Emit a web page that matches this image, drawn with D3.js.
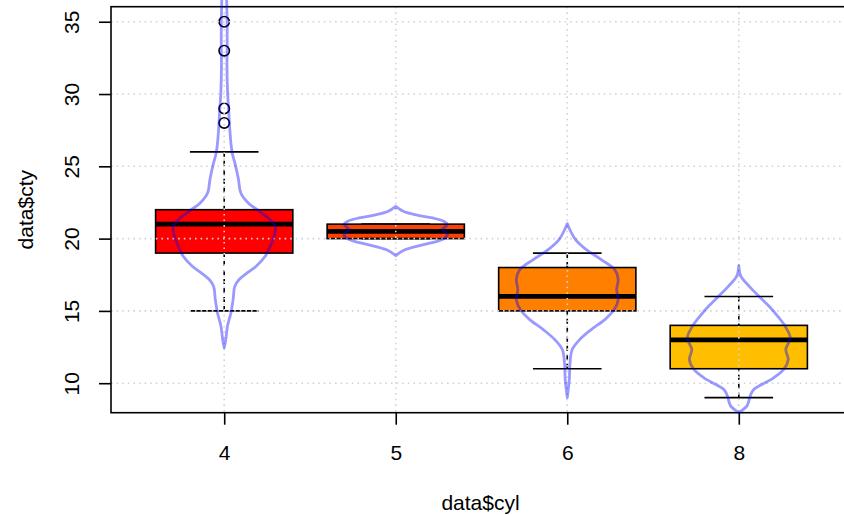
<!DOCTYPE html>
<html>
<head>
<meta charset="utf-8">
<script src="https://cdn.jsdelivr.net/npm/d3@7"></script>
<style>
  html, body { margin: 0; padding: 0; background: #fff; }
  svg { display: block; }
  text { font-family: "Liberation Sans", Arial, Helvetica, sans-serif; fill: #000; }
</style>
</head>
<body>
<svg id="chart" width="844" height="515"></svg>
<script>
// City mileage by number of cylinders: boxplots with violin outlines on top.
const categories = ["4", "5", "6", "8"];
const q1 = [19, 20, 15, 11];
const medians = [21, 20.5, 16, 13];
const q3 = [22, 21, 18, 14];
const whiskerLow = [15, 20, 11, 9];
const whiskerHigh = [26, 21, 19, 16];
const outliers = [[28, 29, 33, 35], [], [], []];
const boxColors = ["#FF0000", "#FF4000", "#FF8000", "#FFBF00"];
const yTicks = [10, 15, 20, 25, 30, 35];
const yLimits = [7.96, 36.04];
const xLimits = [0.34, 4.66];

// Violin outlines: [cty value, half width in category units]
const violin4 = [[36.6, 0.014], [36.05, 0.015], [35, 0.017], [33, 0.017], [32, 0.016], [30, 0.020],
  [28.9, 0.026], [27.5, 0.033], [26.5, 0.040], [25.9, 0.047], [25.0, 0.067], [24.1, 0.083],
  [23.16, 0.097], [22.47, 0.140], [22.0, 0.192], [21.43, 0.256], [20.85, 0.297], [20.16, 0.291],
  [19.47, 0.268], [18.78, 0.239], [18.09, 0.186], [17.63, 0.134], [17.17, 0.087], [16.7, 0.062],
  [15.8, 0.052], [14.86, 0.039], [13.94, 0.019], [13.0, 0.009], [12.45, 0]];
const violin5 = [[22.23, 0], [21.89, 0.044], [21.66, 0.111], [21.43, 0.214], [21.2, 0.280],
  [20.97, 0.301], [20.62, 0.272], [20.28, 0.301], [19.98, 0.280], [19.7, 0.204], [19.47, 0.122],
  [19.2, 0.047], [18.83, 0]];
const violin6 = [[21.04, 0], [20.62, 0.015], [19.93, 0.048], [19.24, 0.111], [18.55, 0.198],
  [17.86, 0.277], [17.17, 0.297], [16.48, 0.288], [15.78, 0.297], [15.09, 0.274], [14.4, 0.219],
  [13.71, 0.140], [13.02, 0.073], [12.33, 0.029], [11.4, 0.016], [10.26, 0.012], [9.0, 0]];
const violin8 = [[18.13, 0], [17.4, 0.012], [16.7, 0.061], [16.0, 0.119], [15.3, 0.178],
  [14.63, 0.227], [13.94, 0.270], [13.14, 0.300], [12.33, 0.274], [11.64, 0.288], [10.95, 0.262],
  [10.26, 0.189], [9.57, 0.087], [9.1, 0.066], [8.43, 0.048], [7.97, 0]];
const violins = [violin4, violin5, violin6, violin8];

const plot = { left: 111, right: 852, top: 6.7, bottom: 412.7 };
const lw = 1.6;
const fontSize = 21;

const svg = d3.select("#chart");

const x = d3.scaleLinear().domain(xLimits).range([plot.left, plot.right]);
const y = d3.scaleLinear().domain(yLimits).range([plot.bottom, plot.top]);
const width = d3.scaleLinear().domain([0, 1]).range([0, x(2) - x(1)]);
const pos = i => x(i + 1);
const boxHalf = width(0.4);
const stapleHalf = width(0.2);

const data = categories.map((c, i) => ({
  c, i, q1: q1[i], med: medians[i], q3: q3[i],
  lo: whiskerLow[i], hi: whiskerHigh[i], out: outliers[i], fill: boxColors[i]
}));

// Boxes
const g = svg.append("g");
g.selectAll("rect.box").data(data).join("rect")
  .attr("x", d => pos(d.i) - boxHalf)
  .attr("y", d => y(d.q3))
  .attr("width", boxHalf * 2)
  .attr("height", d => y(d.q1) - y(d.q3))
  .attr("fill", d => d.fill)
  .attr("stroke", "#000").attr("stroke-width", lw);

// Whiskers (dashed) and staples
[["lo", "q1"], ["hi", "q3"]].forEach(([a, b]) => {
  g.selectAll(null).data(data.filter(d => d[a] !== d[b])).join("line")
    .attr("x1", d => pos(d.i)).attr("x2", d => pos(d.i))
    .attr("y1", d => y(d[a])).attr("y2", d => y(d[b]))
    .attr("stroke", "#000").attr("stroke-width", lw)
    .attr("stroke-dasharray", "5,4");
  g.selectAll(null).data(data).join("line")
    .attr("x1", d => pos(d.i) - stapleHalf).attr("x2", d => pos(d.i) + stapleHalf)
    .attr("y1", d => y(d[a])).attr("y2", d => y(d[a]))
    .attr("stroke", "#000").attr("stroke-width", lw);
});

// Medians
g.selectAll("line.med").data(data).join("line")
  .attr("x1", d => pos(d.i) - boxHalf).attr("x2", d => pos(d.i) + boxHalf)
  .attr("y1", d => y(d.med)).attr("y2", d => y(d.med))
  .attr("stroke", "#000").attr("stroke-width", 4.8);

// Outliers
data.forEach(d => {
  g.selectAll(null).data(d.out).join("circle")
    .attr("cx", pos(d.i)).attr("cy", v => y(v)).attr("r", 5.2)
    .attr("fill", "none").attr("stroke", "#000").attr("stroke-width", lw);
});

// Grid
const grid = svg.append("g")
  .attr("stroke", "#D3D3D3").attr("stroke-width", lw).attr("stroke-dasharray", "1.6,4");
grid.selectAll(null).data(yTicks).join("line")
  .attr("x1", plot.left).attr("x2", plot.right)
  .attr("y1", d => y(d)).attr("y2", d => y(d));
grid.selectAll(null).data(categories).join("line")
  .attr("x1", (d, i) => pos(i)).attr("x2", (d, i) => pos(i))
  .attr("y1", plot.top).attr("y2", plot.bottom);

// Plot frame
svg.append("rect")
  .attr("x", plot.left).attr("y", plot.top)
  .attr("width", plot.right - plot.left).attr("height", plot.bottom - plot.top)
  .attr("fill", "none").attr("stroke", "#000").attr("stroke-width", lw);

// Axes
const yAxis = svg.append("g").attr("transform", `translate(${plot.left},0)`)
  .call(d3.axisLeft(y).tickValues(yTicks).tickSize(12).tickFormat(d3.format("d")));
yAxis.select(".domain").remove();
yAxis.selectAll(".tick line").attr("stroke", "#000").attr("stroke-width", lw);
yAxis.selectAll(".tick text")
  .attr("font-size", fontSize).attr("x", 0).attr("y", 0).attr("dy", 0)
  .attr("transform", "translate(-32,0) rotate(-90)")
  .attr("text-anchor", "middle")
  .attr("font-family", "Liberation Sans, Arial, sans-serif")
  .attr("fill", "#000");

const xAxis = svg.append("g").attr("transform", `translate(0,${plot.bottom})`)
  .call(d3.axisBottom(x).tickValues([1, 2, 3, 4]).tickSize(12).tickFormat(v => categories[v - 1]));
xAxis.select(".domain").remove();
xAxis.selectAll(".tick line").attr("stroke", "#000").attr("stroke-width", lw);
xAxis.selectAll(".tick text")
  .attr("font-size", fontSize).attr("y", 47).attr("dy", 0)
  .attr("font-family", "Liberation Sans, Arial, sans-serif")
  .attr("fill", "#000");

// Axis titles
svg.append("text").attr("x", (plot.left + plot.right) / 2 - 1).attr("y", 510)
  .attr("text-anchor", "middle").attr("font-size", fontSize).text("data$cyl");
svg.append("text")
  .attr("transform", `translate(33,${(plot.top + plot.bottom) / 2}) rotate(-90)`)
  .attr("text-anchor", "middle").attr("font-size", fontSize).text("data$cty");

// Violin outlines
const vg = svg.append("g");
violins.forEach((v, i) => {
  const area = d3.area()
    .y(d => y(d[0]))
    .x0(d => pos(i) - width(d[1]))
    .x1(d => pos(i) + width(d[1]))
    .curve(d3.curveCatmullRom.alpha(0.5));
  vg.append("path").datum(v).attr("d", area)
    .attr("fill", "none")
    .attr("stroke", "rgba(0,0,255,0.4)")
    .attr("stroke-width", 2.8)
    .attr("stroke-linejoin", "round");
});
</script>
</body>
</html>
